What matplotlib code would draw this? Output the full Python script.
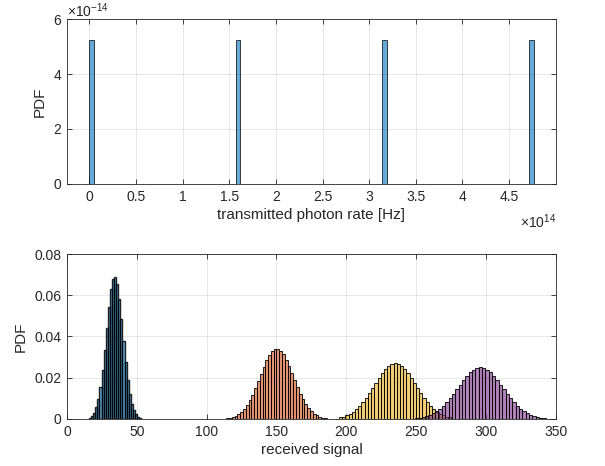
import numpy as np
import matplotlib
matplotlib.use("Agg")
import matplotlib.pyplot as plt
from matplotlib.ticker import FixedLocator

plt.rcParams['font.family'] = ['Liberation Sans', 'DejaVu Sans']
plt.rcParams['mathtext.fontset'] = 'custom'
plt.rcParams['mathtext.rm'] = 'Liberation Sans'
plt.rcParams['mathtext.it'] = 'Liberation Sans:italic'

# ---- top panel data: transmitted photon rate levels (Hz) and pdf ----
tx_levels = [0.0, 1.5873e14, 3.1746e14, 4.7619e14]
tx_pdf = 5.25e-14
tx_nbins = 100
tx_range = [0.0, 4.7619e14]
top_xticks = [0, 0.5, 1, 1.5, 2, 2.5, 3, 3.5, 4, 4.5]
top_yticks = [0, 2, 4, 6]

# ---- bottom panel data: received signal histograms (pdf) ----
blue_start, blue_width = 15.75, 1.5
blue_pdf = [0.0007, 0.0015, 0.0030, 0.0056, 0.0097, 0.0156, 0.0236, 0.0333, 0.0440,
            0.0544, 0.0629, 0.0680, 0.0690, 0.0655, 0.0582, 0.0485, 0.0378, 0.0278,
            0.0190, 0.0122, 0.0074, 0.0042, 0.0022, 0.0011, 0.0005, 0.0002]

orange_start, orange_width = 112.0, 2.0
orange_pdf = [0.0002, 0.0004, 0.0006, 0.0010, 0.0016, 0.0024, 0.0035, 0.0049, 0.0068,
              0.0091, 0.0118, 0.0150, 0.0183, 0.0219, 0.0253, 0.0284, 0.0310, 0.0329,
              0.0339, 0.0341, 0.0331, 0.0313, 0.0287, 0.0257, 0.0224, 0.0189, 0.0155,
              0.0123, 0.0096, 0.0072, 0.0052, 0.0037, 0.0025, 0.0017, 0.0011, 0.0007,
              0.0004, 0.0002]

yellow_start, yellow_width = 194.75, 2.3
yellow_pdf = [0.0008, 0.0012, 0.0018, 0.0025, 0.0035, 0.0047, 0.0063, 0.0081, 0.0102,
              0.0125, 0.0149, 0.0175, 0.0200, 0.0223, 0.0242, 0.0257, 0.0267, 0.0270,
              0.0267, 0.0257, 0.0242, 0.0223, 0.0200, 0.0175, 0.0149, 0.0125, 0.0102,
              0.0081, 0.0063, 0.0047, 0.0035, 0.0025, 0.0018, 0.0012, 0.0008]

purple_start, purple_width = 249.2, 2.4
purple_pdf = [0.0004, 0.0007, 0.0010, 0.0014, 0.0020, 0.0028, 0.0037, 0.0049, 0.0064,
              0.0081, 0.0101, 0.0122, 0.0144, 0.0167, 0.0189, 0.0209, 0.0226, 0.0239,
              0.0247, 0.0250, 0.0247, 0.0239, 0.0226, 0.0209, 0.0189, 0.0167, 0.0144,
              0.0122, 0.0101, 0.0081, 0.0064, 0.0049, 0.0037, 0.0028, 0.0020, 0.0014,
              0.0010, 0.0007, 0.0004]

bottom_xticks = [0, 50, 100, 150, 200, 250, 300, 350]
bottom_yticks = [0, 0.02, 0.04, 0.06, 0.08]

# MATLAB default colors
c_blue = (0.0, 0.447, 0.741)
c_orange = (0.850, 0.325, 0.098)
c_yellow = (0.929, 0.694, 0.125)
c_purple = (0.494, 0.184, 0.556)
axcol = (0.15, 0.15, 0.15)

fig = plt.figure(figsize=(6.05, 4.66), dpi=100)
ax1 = fig.add_axes([0.1107, 0.6052, 0.808, 0.354])
ax2 = fig.add_axes([0.1107, 0.1009, 0.808, 0.354])


def style(ax):
    ax.set_facecolor('white')
    for s in ax.spines.values():
        s.set_color(axcol)
        s.set_linewidth(0.6)
    ax.tick_params(direction='in', length=3.5, width=0.6, colors=axcol,
                   labelsize=10, top=True, right=True, pad=4)
    ax.grid(True, color=(0.15, 0.15, 0.15), alpha=0.13, linewidth=0.6)
    ax.set_axisbelow(True)


def rgba(c, a=0.6):
    return (c[0], c[1], c[2], a)


# top panel
edges = np.linspace(tx_range[0], tx_range[1], tx_nbins + 1)
width_tx = edges[1] - edges[0]
heights = np.zeros(tx_nbins)
for lv in tx_levels:
    idx = min(int(np.searchsorted(edges, lv, side='right') - 1), tx_nbins - 1)
    heights[idx] = tx_pdf
ax1.bar(edges[:-1], heights, width=width_tx, align='edge',
        facecolor=rgba(c_blue), edgecolor=(0, 0, 0, 0.85), linewidth=0.6)
style(ax1)
ax1.set_xlim(-0.2381e14, 5.0e14)
ax1.set_ylim(0, 6e-14)
ax1.set_xticks([t * 1e14 for t in top_xticks])
ax1.set_xticklabels(['%g' % t for t in top_xticks])
ax1.set_yticks([t * 1e-14 for t in top_yticks])
ax1.set_yticklabels(['%g' % t for t in top_yticks])
ax1.set_xlabel('transmitted photon rate [Hz]', fontsize=11, color=axcol, labelpad=3)
ax1.set_ylabel('PDF', fontsize=11, color=axcol, labelpad=5)
ax1.text(0.0, 1.012, r'$\times10^{-14}$', transform=ax1.transAxes, fontsize=10,
         color=axcol, ha='left', va='baseline')
ax1.text(1.0, -0.175, r'$\times10^{14}$', transform=ax1.transAxes, fontsize=10,
         color=axcol, ha='right', va='top')

# bottom panel
for start, w, vals, col, lw in [(blue_start, blue_width, blue_pdf, c_blue, 1.0),
                                (orange_start, orange_width, orange_pdf, c_orange, 0.75),
                                (yellow_start, yellow_width, yellow_pdf, c_yellow, 0.75),
                                (purple_start, purple_width, purple_pdf, c_purple, 0.75)]:
    lefts = start + w * np.arange(len(vals))
    ax2.bar(lefts, vals, width=w, align='edge', facecolor=rgba(col),
            edgecolor=(0, 0, 0, 0.85), linewidth=lw)
style(ax2)
ax2.set_xlim(0, 350)
ax2.set_ylim(0, 0.08)
ax2.xaxis.set_major_locator(FixedLocator(bottom_xticks))
ax2.yaxis.set_major_locator(FixedLocator(bottom_yticks))
ax2.set_xticklabels(['%g' % t for t in bottom_xticks])
ax2.set_yticklabels(['0'] + ['%.2f' % t for t in bottom_yticks[1:]])
ax2.set_xlabel('received signal', fontsize=11, color=axcol, labelpad=3)
ax2.set_ylabel('PDF', fontsize=11, color=axcol, labelpad=5)

fig.savefig('out.png', dpi=100, facecolor='white')
